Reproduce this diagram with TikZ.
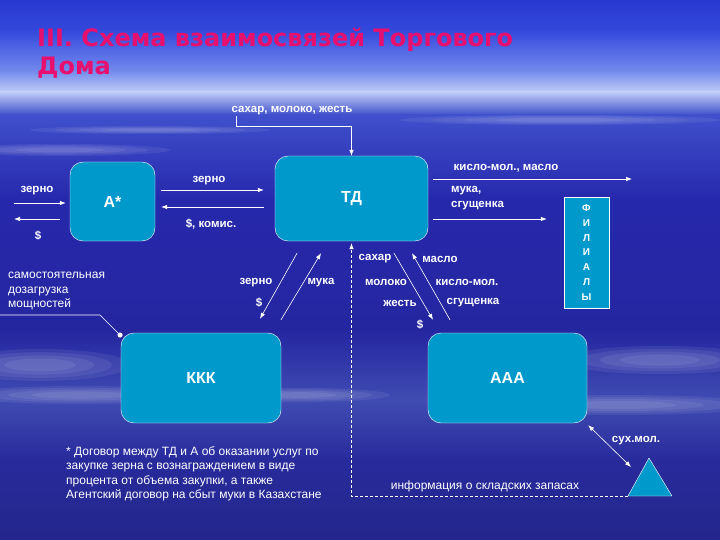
\documentclass[tikz,border=0pt]{standalone}
\usepackage{fontspec}
\setmainfont{Liberation Sans}
\newfontfamily\titlefont{DejaVu Sans}
\usetikzlibrary{arrows.meta}
\definecolor{boxblue}{RGB}{0,153,204}
\definecolor{titlepink}{RGB}{232,16,110}

\begin{document}
\begin{tikzpicture}[x=1pt,y=-1pt,
  box/.style={draw=white,fill=boxblue,rounded corners=13pt,text=white,font=\fontsize{16}{18}\selectfont\bfseries,inner sep=0pt},
  lbl/.style={text=white,font=\fontsize{11.5}{15}\selectfont\bfseries,inner sep=1pt},
  note/.style={text=white,font=\fontsize{12}{14.5}\selectfont,align=left,inner sep=0pt},
  arr/.style={white,line width=0.6pt,-{Latex[length=6pt,width=4.5pt]}},
  cloud/.style={white,opacity=0.07}]
\useasboundingbox (0,0) rectangle (720,540);
\shade[top color={rgb,255:red,40;green,56;blue,208},bottom color={rgb,255:red,52;green,72;blue,220}] (0,0) rectangle (720,30);
\shade[top color={rgb,255:red,52;green,72;blue,220},bottom color={rgb,255:red,112;green,136;blue,236}] (0,30) rectangle (720,70);
\shade[top color={rgb,255:red,112;green,136;blue,236},bottom color={rgb,255:red,192;green,204;blue,246}] (0,70) rectangle (720,92);
\shade[top color={rgb,255:red,192;green,204;blue,246},bottom color={rgb,255:red,64;green,80;blue,204}] (0,92) rectangle (720,115);
\shade[top color={rgb,255:red,64;green,80;blue,204},bottom color={rgb,255:red,38;green,40;blue,172}] (0,115) rectangle (720,200);
\shade[top color={rgb,255:red,38;green,40;blue,172},bottom color={rgb,255:red,36;green,38;blue,160}] (0,200) rectangle (720,330);
\shade[top color={rgb,255:red,36;green,38;blue,160},bottom color={rgb,255:red,64;green,76;blue,178}] (0,330) rectangle (720,400);
\shade[top color={rgb,255:red,64;green,76;blue,178},bottom color={rgb,255:red,40;green,42;blue,156}] (0,400) rectangle (720,460);
\shade[top color={rgb,255:red,40;green,42;blue,156},bottom color={rgb,255:red,36;green,38;blue,140}] (0,460) rectangle (720,540);
\foreach \cx/\cy/\rx/\ry in {60/150/110/6,560/120/160/5,40/365/90/16,80/395/120/9,660/360/100/14,620/405/140/10,300/395/90/7,150/130/120/4}
  \foreach \k in {1,0.8,0.6,0.4}{
    \pgfmathsetmacro\rxk{\k*\rx}
    \pgfmathsetmacro\ryk{\k*\ry}
    \fill[cloud] (\cx,\cy) ellipse [x radius=\rxk,y radius=\ryk];
  }

\node[anchor=north west,inner sep=0pt,text=titlepink,align=left,font=\titlefont\fontsize{24}{28}\selectfont\bfseries] (title) at (37,28) {III. Схема взаимосвязей Торгового\\Дома};

\node[box,minimum width=85pt,minimum height=79pt] (a) at (112.5,201.5) {А*};
\node[box,minimum width=153pt,minimum height=85pt] (td) at (351.5,198.5) {ТД};
\node[box,rounded corners=0pt,minimum width=45pt,minimum height=111pt,align=center,font=\fontsize{10}{14.8}\selectfont\bfseries] (fil) at (586.5,252.5) {Ф\\И\\Л\\И\\А\\Л\\Ы};
\node[box,minimum width=160pt,minimum height=90pt] (kkk) at (201,378) {ККК};
\node[box,minimum width=159pt,minimum height=90pt] (aaa) at (507.5,378) {ААА};
\coordinate (trtop) at (649,458);
\coordinate (trleft) at (628,496);
\coordinate (trright) at (672,496);
\draw[white,fill=boxblue,line width=0.4pt] (trtop) -- (trright) -- (trleft) -- cycle;

\node[lbl] (sup) at (292,111) {сахар, молоко, жесть};
\node[lbl] (zin) at (37,191) {зерно};
\node[lbl] (dleft) at (38,236) {\$};
\node[lbl] (zmid) at (209,181) {зерно};
\node[lbl] (dkom) at (211,224) {\$, комис.};
\node[lbl] (kmaslo) at (506,168) {кисло-мол., масло};
\node[lbl,anchor=west,align=left] (muka) at (450,198) {мука,\\сгущенка};
\node[lbl] (zkkk) at (256,283) {зерно};
\node[lbl] (dkkk) at (259,303) {\$};
\node[lbl] (mkkk) at (321,283) {мука};
\node[lbl] (sah) at (375,259) {сахар};
\node[lbl] (mol) at (386,282) {молоко};
\node[lbl] (zhest) at (400,303) {жесть};
\node[lbl] (daaa) at (420,325) {\$};
\node[lbl] (maslo) at (440,259) {масло};
\node[lbl] (kislo) at (467,282) {кисло-мол.};
\node[lbl] (sgush) at (473,303) {сгущенка};
\node[lbl] (suh) at (636,441) {сух.мол.};
\node[note,anchor=west] (samo) at (8,291) {самостоятельная\\дозагрузка\\мощностей};
\node[note] (info) at (485,486) {информация о складских запасах};
\node[note,anchor=west] (dogovor) at (66,474) {* Договор между ТД и А об оказании услуг по\\закупке зерна с вознаграждением в виде\\процента от объема закупки, а также\\Агентский договор на сбыт муки в Казахстане};

\coordinate (grainsrc) at (14,203);
\coordinate (paydst) at (14,219);
\coordinate (kmend) at (632,179);
\coordinate (infoend) at (631,467);
\coordinate (callout) at (0,315);

\draw[arr] ([xshift=6pt]sup.south west) |- ([yshift=29pt]td.north) -- (td.north);
\draw[arr] (grainsrc) -- ([xshift=-4pt,yshift=-1.5pt]a.west);
\draw[arr] ([xshift=-10pt,yshift=-17.5pt]a.west) -- (paydst);
\draw[arr] ([xshift=6pt,yshift=11.5pt]a.east) -- ([xshift=-11pt,yshift=8.5pt]td.west);
\draw[arr] ([xshift=-11pt,yshift=-8.5pt]td.west) -- ([xshift=6pt,yshift=-5.5pt]a.east);
\draw[arr] ([xshift=5pt,yshift=19.5pt]td.east) -- (kmend);
\draw[arr] ([xshift=5pt,yshift=-20.5pt]td.east) -- ([xshift=-17pt,yshift=33.5pt]fil.west);
\draw[arr] ([xshift=-54.5pt,yshift=-12pt]td.south) -- ([xshift=59pt,yshift=14pt]kkk.north);
\draw[arr] ([xshift=80pt,yshift=13pt]kkk.north) -- ([xshift=-30.5pt,yshift=-12pt]td.south);
\draw[arr] ([xshift=42.5pt,yshift=-12pt]td.south) -- ([xshift=-74.5pt,yshift=13pt]aaa.north);
\draw[arr] ([xshift=-57.5pt,yshift=13pt]aaa.north) -- ([xshift=60.5pt,yshift=-12pt]td.south);
\draw[arr,dash pattern=on 3pt off 2pt] (trleft) -| ([yshift=-2pt]td.south);
\draw[white,line width=0.6pt,{Latex[length=6pt,width=4.5pt]}-{Latex[length=6pt,width=4.5pt]}] ([xshift=1pt,yshift=-2pt]aaa.south east) -- (infoend);
\draw[white,line width=0.6pt,-{Circle[length=5pt]}] (callout) -- (100,315) -- ([xshift=1pt,yshift=-4pt]kkk.north west);
\end{tikzpicture}
\end{document}
